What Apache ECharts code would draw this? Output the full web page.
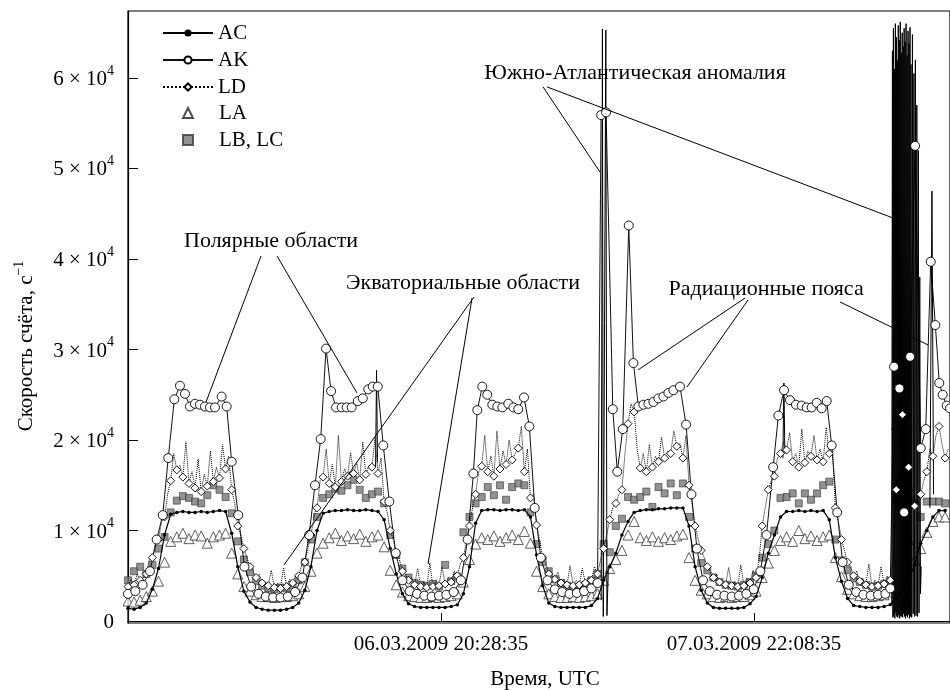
<!DOCTYPE html>
<html lang="ru">
<head>
<meta charset="UTF-8">
<title>Скорость счёта</title>
<script src="https://cdn.jsdelivr.net/npm/echarts@6/dist/echarts.min.js"></script>
</head>
<body style="margin:0;background:#fff;">
<div id="main" style="width:950px;height:690px;"></div>
<script>
// время в часах от 05.03.2009 18:48:35 UTC
const hours = [0,0.5,1,1.5,2,2.5,3,3.5,4,4.5,5,5.5,6,6.5,7,7.5,8,8.5,9,9.5,10,10.5,11,11.5,12,12.5,13,13.5,14,14.5,
  15,15.5,16,16.5,17,17.5,18,18.5,19,19.5,20,20.5,21,21.5,22,22.5,23,23.5,24,24.5,25,25.5,26,26.5,27,27.5,28,28.5,29,29.5,
  30,30.5,31,31.5,32,32.5,33,33.5,34,34.5,35,35.5,36,36.5,37,37.5,38,38.5,39,39.5,40,40.5,41,41.5,42,42.5,43,43.5,44,44.5,
  45,45.5,46,46.5,47,47.5,48,48.5,49,49.5,50,50.5,51,51.5,52,52.5,53,53.5,54,54.5,55,55.5,56,56.5,57,57.5,58,58.5,59,59.5,
  60,60.5,61,61.5,62,62.5,63,63.5,64,64.5,65,65.5,66,66.5,67];
// промежуточные отсчёты LD (без маркеров)
const halfHours = [0.25,0.75,1.25,1.75,2.25,2.75,3.25,3.75,4.25,4.75,5.25,5.75,6.25,6.75,7.25,7.75,8.25,8.75,9.25,9.75,
  10.25,10.75,11.25,11.75,12.25,12.75,13.25,13.75,14.25,14.75,15.25,15.75,16.25,16.75,17.25,17.75,18.25,18.75,19.25,19.75,
  20.25,20.75,21.25,21.75,22.25,22.75,23.25,23.75,24.25,24.75,25.25,25.75,26.25,26.75,27.25,27.75,28.25,28.75,29.25,29.75,
  30.25,30.75,31.25,31.75,32.25,32.75,33.25,33.75,34.25,34.75,35.25,35.75,36.25,36.75,37.25,37.75,38.25,38.75,39.25,39.75,
  40.25,40.75,41.25,41.75,42.25,42.75,43.25,43.75,44.25,44.75,45.25,45.75,46.25,46.75,47.25,47.75,48.25,48.75,49.25,49.75,
  50.25,50.75,51.25,51.75,52.25,52.75,53.25,53.75,54.25,54.75,55.25,55.75,56.25,56.75,57.25,57.75,58.25,58.75,59.25,59.75,
  60.25,60.75,61.25,61.75,62.25,62.75,63.25,63.75,64.25,64.75,65.25,65.75,66.25,66.75,67.25];

const acCounts = [1400,1300,1500,2000,3500,5800,9500,
  11800,12000,12100,12000,12000,12100,12000,12100,12200,12100,
  9700,6000,3300,2100,
  1500,1300,1200,1200,1200,1300,1500,2000,
  3400,6000,10000,
  11900,12100,12200,12200,12300,12200,12200,12300,12200,12100,
  11200,8000,5200,3000,
  1900,1600,1500,1500,1500,1500,1500,1600,1800,
  3000,6000,10800,
  12200,12300,12300,12200,12300,12300,12200,12300,
  11500,7300,3900,2000,
  1600,1500,1500,1500,1500,1500,1700,2500,
  4500,6000,7500,9500,11000,
  12000,12200,12300,12300,12400,12400,12500,12500,12500,
  10500,6000,3400,2000,
  1500,1400,1400,1400,1400,1500,1900,2700,
  4800,7500,9500,11500,
  12100,12100,12200,12100,12200,12100,12200,11200,
  7000,4400,2500,
  1700,1600,1500,1500,1500,1600,1800,
  2500,3500,4500,6200,
  8600,10000,11500,12200,12200];

const ldCounts = [3800,4000,4500,5200,7000,9000,11500,
  15500,16700,15900,15200,14700,14300,14900,15400,15800,16800,
  14500,10500,8000,6000,
  4800,4200,3900,3700,3600,3800,4200,5000,
  6500,9500,12500,
  15900,15200,14800,15400,16000,16300,15600,16200,17000,16300,
  13200,10000,7500,5500,
  4500,4000,3800,3700,3800,3900,4100,4300,5000,
  7000,10500,14000,
  17100,16500,16000,16800,17300,17800,19100,16500,
  13600,10600,7000,5200,
  4600,4200,4000,3900,4000,4200,4500,5200,
  8000,11200,13000,14500,21800,
  23100,16900,16500,17000,17600,18000,18500,19300,18000,
  15000,10500,7800,6000,
  4800,4300,4000,3900,3800,3900,4200,4800,
  10500,14500,16000,18500,
  18900,17600,17000,17500,18200,17800,17600,18500,
  12500,9000,6500,
  5000,4400,4000,3800,3900,4100,4500,
  14500,22800,17000,12700,
  14000,16500,18200,21500,18000];

const ldMidCounts = [4600,5200,4800,6800,8500,11000,14000,
  18500,17200,19800,16500,17900,16200,18800,17000,19500,18200,
  13000,9500,7000,5500,
  5200,4300,5600,4200,5900,4600,5100,6200,
  8000,11500,15500,
  19000,17300,20500,16800,18600,17500,19800,17200,20200,18000,
  12000,9000,6800,5200,
  4800,5800,4300,6400,4500,6000,4700,5500,6300,
  8800,12500,16500,
  20500,18200,21000,18800,20000,18500,21500,19000,
  14000,9000,6500,5000,
  5400,4600,6100,4500,5800,4800,6000,6800,
  9500,12500,14000,18500,24000,
  19000,18500,19500,18200,20300,18800,21000,19600,20500,
  13000,9000,7000,5500,
  5200,4500,5900,4400,6200,4700,5600,6800,
  12500,15500,18000,19800,
  20800,18500,21200,18800,20500,19000,21400,19500,
  11000,7800,6000,
  5500,4600,6300,4500,6000,5000,6800,
  18000,20500,15000,13500,
  15500,19000,20500,19500,19000];

const laCounts = [2200,2100,2300,2700,3300,4400,6500,
  8800,9300,9700,9100,9500,9400,8600,9300,9500,9700,
  7500,5200,3800,3300,
  2900,2700,2700,2600,2700,2700,2800,3000,
  3800,5500,7500,
  8600,9200,9700,8900,9400,9100,9600,8800,9300,9500,
  8200,5600,4000,3200,
  2800,2700,2600,2600,2700,2600,2700,2800,3000,
  4300,6800,8500,
  9200,9000,9400,8800,9200,9500,9000,9900,
  8600,5500,3800,3000,
  2700,2600,2600,2700,2600,2700,2800,3000,
  4500,5800,6800,7800,9500,
  11000,9200,8900,9300,8800,9200,9000,9400,9600,
  7000,4500,3400,3000,
  2700,2600,2700,2600,2700,2700,2900,3300,
  4800,6400,7800,8900,
  9300,8800,10000,9100,9400,8900,9300,9500,
  7000,4900,3500,
  3000,2800,2700,2700,2800,2900,3200,
  21700,14800,9000,6700,
  8000,9800,11000,11500,11500];

const lbcCounts = [4500,5500,6000,5200,6200,8000,9300,
  12000,13300,13800,13600,13200,13000,13900,15000,14500,13700,
  11900,8800,6800,5400,
  4400,3900,3600,3500,3700,3600,4000,4500,
  6500,9000,11500,
  13600,14000,14600,14400,15000,15600,14500,13600,14000,14300,
  13000,9500,7300,5800,
  4800,4200,4000,3900,4100,3800,6200,4400,4900,
  9800,11500,13000,
  13700,14800,13900,15000,13400,14800,15200,15000,
  12000,8500,6500,5500,
  4600,4200,3900,3700,3800,4000,4500,5200,
  8500,7600,10500,11300,13700,
  13400,13700,14300,12600,14800,14100,15200,13900,15200,
  11500,8000,6400,5600,
  4800,4300,4000,3900,3800,4000,4300,5000,
  7000,8500,10000,13600,
  13700,14100,13000,14100,13400,14100,15000,15400,
  9000,6700,5600,
  4700,4300,4000,3800,3900,4100,4400,
  13400,15900,13400,13000,
  11500,13200,13200,13200,13000];

// АК: свои моменты времени
const akHours = [0,0.6,1.2,1.8,2.35,2.85,3.3,3.8,4.26,4.67,5.08,5.49,5.9,6.31,6.72,7.13,7.68,8.09,8.5,9.04,
  9.55,10.1,10.7,11.3,11.9,12.5,13.1,13.7,14.3,14.85,15.33,15.8,16.24,16.65,17.06,17.52,17.93,18.34,18.84,19.25,
  19.7,20.07,20.48,20.93,21.43,21.95,22.5,23.1,23.7,24.3,24.9,25.5,26.1,26.7,27.3,27.85,28.32,28.64,29.05,29.46,
  29.87,30.28,30.69,31.18,31.6,32,32.47,32.91,33.35,33.85,34.4,35,35.6,36.2,36.8,37.4,38,38.5,38.79,39.2,
  39.75,40.12,40.57,41.06,41.44,41.85,42.26,42.67,43.08,43.49,43.9,44.31,44.72,45.26,45.76,46.2,46.65,47.15,47.7,48.3,
  48.9,49.5,50.1,50.7,51.3,51.85,52.35,52.9,53.33,53.79,54.28,54.77,55.24,55.65,56.06,56.47,56.88,57.29,57.7,58.15,
  58.6,59.1,59.7,60.3,60.9,61.5,62.1,62.5,62.81,63.25,63.64,64.13,64.54,65,65.41,65.82,66.2,66.52,66.8,67.13,67.4];
const akCounts = [3000,3300,4000,5500,9000,11700,18000,24500,26000,25100,23700,24000,23900,23700,23600,23600,24800,23700,17600,11700,
  6000,3800,3000,2700,2600,2600,2700,3200,4800,9500,15000,20100,30100,25400,23600,23600,23600,23600,24300,24600,
  25600,25900,25900,19400,13200,7500,4500,3300,3000,2800,2700,2800,2900,3200,4500,9000,16300,23300,25900,25000,
  23900,23700,23600,24000,23600,23400,24700,21500,12500,7000,4500,3500,3200,3000,3100,3300,3600,4200,55900,56200,
  23400,16500,21200,43700,28500,23700,23900,24000,24200,24600,24800,25200,25500,25900,21700,14000,8000,4500,3300,2900,
  2800,2700,2800,3000,3500,5500,9500,17000,22700,25500,24400,23900,23800,23600,23600,24100,23500,24300,19400,12000,
  6500,4000,3200,2900,2800,2900,3000,3600,28100,25700,12000,29200,52500,19100,21200,39700,32700,26300,25000,23800,23500];

// выбросы АС (ЮАА и узкие пики), null — разрыв линии
const spikeHours = [20.3,20.38,20.46,20.6,
  38.8,38.9,38.97,39.18,39.27,39.38,39.5,
  53.7,53.78,53.86,54,
  62.62,62.68,62.72,62.76,62.8,62.84,62.88,62.92,62.96,63,63.04,63.08,63.12,63.16,63.2,63.24,63.28,63.32,63.36,63.4,
  63.44,63.48,63.52,63.56,63.6,63.64,63.68,63.72,63.76,63.8,63.84,63.88,63.92,63.96,64,64.04,64.08,64.12,64.16,64.2,
  64.26,64.32,64.38,64.44,64.5,64.56,64.62,64.68,64.74,64.8,64.86,64.92,64.98,65.04,65.12,
  65.75,65.92,66.05];
const spikeCounts = [17000,27700,17500,null,
  2300,65400,500,65300,600,5500,null,
  18000,26300,18500,null,
  1800,63000,400,65500,600,61000,300,66000,900,64500,500,62000,400,65800,700,64200,300,66200,600,62800,
  500,65000,400,63500,800,65500,500,64000,300,66000,600,62500,400,65200,700,63800,300,65600,500,61500,
  400,64800,800,60500,500,62000,600,57000,500,52000,900,38000,3000,6000,null,
  12500,47500,14000];

const tickHours = [25.6667, 51.3333];
const tickLabels = ['06.03.2009 20:28:35', '07.03.2009 22:08:35'];
const yTicks = [0, 10000, 20000, 30000, 40000, 50000, 60000];

// подписи и выноски в координатах данных [час, отсчёты]
const notes = [
  {text: 'Полярные области', at: [11.73, 41990]},
  {text: 'Экваториальные области', at: [27.47, 37350]},
  {text: 'Южно-Атлантическая аномалия', at: [41.57, 60550]},
  {text: 'Радиационные пояса', at: [52.32, 36690]}
];
const leaders = [
  [[10.91, 40330], [6.40, 24200]],
  [[12.22, 40330], [18.78, 25190]],
  [[28.37, 35800], [12.79, 6190]],
  [[28.21, 35690], [24.60, 6300]],
  [[34.03, 59010], [38.70, 49610]],
  [[34.36, 59010], [62.73, 44530]],
  [[50.60, 35690], [41.82, 27740]],
  [[50.84, 35470], [45.84, 25860]],
  [[58.38, 35250], [65.60, 30500]]
];

const FONT = '"Liberation Serif", "DejaVu Serif", serif';
const pair = (xs, ys) => xs.map((x, i) => [x, ys[i]]);

// LD: маркеры на основных точках, промежуточные — только линия
const ldData = [];
hours.forEach(function (h, i) {
  ldData.push([h, ldCounts[i]]);
  ldData.push({value: [halfHours[i], ldMidCounts[i]], symbol: 'none'});
});

var myChart = echarts.init(document.getElementById('main'));

const legendText = {fontFamily: FONT, fontSize: 21, color: '#000', lineHeight: 22};

var option = {
  animation: false,
  backgroundColor: '#fff',
  grid: {left: 128, right: 0, top: 11, bottom: 67, outerBoundsMode: 'none',
    show: true, borderColor: '#000', borderWidth: 1.2},
  legend: [
    {
      orient: 'vertical', left: 162, top: 22, padding: 0,
      itemWidth: 50, itemHeight: 9, itemGap: 5,
      data: ['AC', 'AK', 'LD'],
      textStyle: legendText
    },
    {
      orient: 'vertical', left: 182, top: 102, padding: 0,
      itemWidth: 10, itemHeight: 10, itemGap: 5,
      data: ['LA', 'LB, LC'],
      textStyle: Object.assign({padding: [0, 0, 0, 21]}, legendText)
    }
  ],
  xAxis: {
    type: 'value', min: 0, max: 67.4,
    name: 'Время, UTC', nameLocation: 'middle', nameGap: 46,
    nameTextStyle: {fontFamily: FONT, fontSize: 21, color: '#000', padding: [0, 0, 0, 12]},
    axisLine: {lineStyle: {color: '#000', width: 1.2}},
    axisTick: {inside: true, length: 8, customValues: tickHours, lineStyle: {color: '#000'}},
    axisLabel: {
      customValues: tickHours, margin: 11,
      fontFamily: FONT, fontSize: 21, color: '#000',
      formatter: function (v) {
        let i = tickHours.findIndex(t => Math.abs(t - v) < 0.01);
        return i >= 0 ? tickLabels[i] : '';
      }
    },
    splitLine: {show: false}
  },
  yAxis: {
    type: 'value', min: -220, max: 67400,
    name: '{n|Скорость счёта, с}{s|−1}', nameLocation: 'middle', nameGap: 88, nameRotate: 90,
    nameTextStyle: {
      padding: [0, 58, 0, 0],
      rich: {
        n: {fontFamily: FONT, fontSize: 21, color: '#000', lineHeight: 28},
        s: {fontFamily: FONT, fontSize: 14, color: '#000', lineHeight: 14, verticalAlign: 'top'}
      }
    },
    axisLine: {show: true, lineStyle: {color: '#000', width: 1.2}},
    axisTick: {show: true, inside: true, length: 10, customValues: yTicks, lineStyle: {color: '#000'}},
    axisLabel: {
      customValues: yTicks, margin: 14,
      formatter: function (v) {
        return v === 0 ? '{b|0}' : '{b|' + (v / 10000) + ' × 10}{s|4}';
      },
      rich: {
        b: {fontFamily: FONT, fontSize: 21, color: '#000', lineHeight: 28, padding: [3, 0, 0, 0]},
        s: {fontFamily: FONT, fontSize: 14, color: '#000', lineHeight: 14, verticalAlign: 'top'}
      }
    },
    splitLine: {show: false}
  },
  series: [
    {
      name: 'LB, LC', type: 'scatter', data: pair(hours, lbcCounts),
      symbol: 'rect', symbolSize: 7,
      itemStyle: {color: '#777', borderColor: '#3a3a3a', borderWidth: 0.8}
    },
    {
      name: 'LA', type: 'scatter', data: pair(hours, laCounts),
      symbol: 'triangle', symbolSize: 10,
      itemStyle: {color: '#fff', borderColor: '#222', borderWidth: 0.9}
    },
    {
      name: 'AC', type: 'line', data: pair(hours, acCounts),
      symbol: 'circle', symbolSize: 3.5, showAllSymbol: true,
      lineStyle: {color: '#000', width: 1.2},
      itemStyle: {color: '#000', borderWidth: 0}
    },
    {
      name: 'LD', type: 'line', data: ldData,
      symbol: 'diamond', symbolSize: 8, showAllSymbol: true,
      lineStyle: {color: '#000', width: 1, type: 'dotted'},
      itemStyle: {color: '#fff', borderColor: '#000', borderWidth: 0.9}
    },
    {
      name: 'AK', type: 'line', data: pair(akHours, akCounts),
      symbol: 'circle', symbolSize: 9, showAllSymbol: true,
      lineStyle: {color: '#111', width: 1},
      itemStyle: {color: '#fff', borderColor: '#000', borderWidth: 0.9}
    },
    {
      name: 'AC', type: 'line', data: pair(spikeHours, spikeCounts),
      symbol: 'none', connectNulls: false,
      lineStyle: {color: '#000', width: 1}
    }
  ]
};
myChart.setOption(option);

// подписи и выноски
const px = p => myChart.convertToPixel({gridIndex: 0}, p);
const graphics = [];
leaders.forEach(function (l) {
  const a = px(l[0]), b = px(l[1]);
  graphics.push({type: 'line', z: 100, shape: {x1: a[0], y1: a[1], x2: b[0], y2: b[1]},
    style: {stroke: '#000', lineWidth: 1}});
});
notes.forEach(function (n) {
  const p = px(n.at);
  graphics.push({type: 'text', z: 100, style: {text: n.text, x: p[0], y: p[1],
    font: '22px ' + FONT, fill: '#000', textAlign: 'center', textVerticalAlign: 'middle'}});
});
myChart.setOption({graphic: graphics});
</script>
</body>
</html>
